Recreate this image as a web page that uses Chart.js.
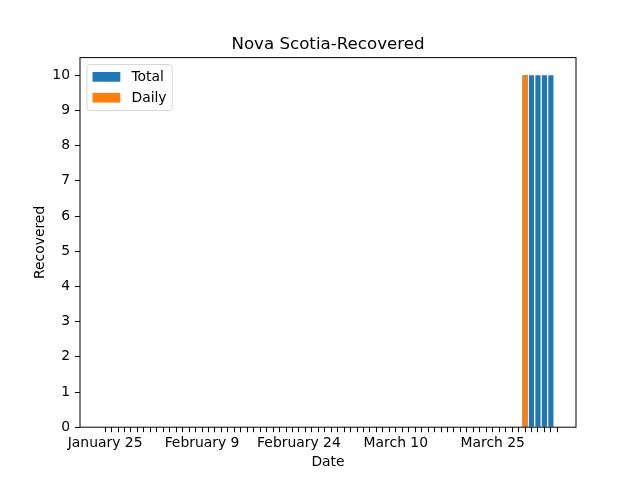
<!DOCTYPE html>
<html>
<head>
<meta charset="utf-8">
<script src="https://cdn.jsdelivr.net/npm/chart.js@4.4.1/dist/chart.umd.min.js"></script>
<style>
  html, body { margin: 0; padding: 0; background: #fff; }
  #wrap { width: 640px; height: 480px; }
</style>
</head>
<body>
<div id="wrap"><canvas id="recoveredChart" width="640" height="480"></canvas></div>
<script>
// days since January 25 (2020), one bar slot per day
const tickLabels = ['January 25', 'February 9', 'February 24', 'March 10', 'March 25'];
const tickDays = [0, 15, 30, 45, 60];
const yTicks = [0, 1, 2, 3, 4, 5, 6, 7, 8, 9, 10];

const total = [
  0, 0, 0, 0, 0, 0, 0, 0, 0, 0,
  0, 0, 0, 0, 0, 0, 0, 0, 0, 0,
  0, 0, 0, 0, 0, 0, 0, 0, 0, 0,
  0, 0, 0, 0, 0, 0, 0, 0, 0, 0,
  0, 0, 0, 0, 0, 0, 0, 0, 0, 0,
  0, 0, 0, 0, 0, 0, 0, 0, 0, 0,
  0, 0, 0, 0, 0, 10, 10, 10, 10, 10
];
const daily = [
  0, 0, 0, 0, 0, 0, 0, 0, 0, 0,
  0, 0, 0, 0, 0, 0, 0, 0, 0, 0,
  0, 0, 0, 0, 0, 0, 0, 0, 0, 0,
  0, 0, 0, 0, 0, 0, 0, 0, 0, 0,
  0, 0, 0, 0, 0, 0, 0, 0, 0, 0,
  0, 0, 0, 0, 0, 0, 0, 0, 0, 0,
  0, 0, 0, 0, 0, 10, 0, 0, 0, 0
];

// one tick per day, one more than the data
const dayTicks = [];
for (let i = 0; i <= total.length; i++) dayTicks.push(i);

Chart.defaults.font.family = "'DejaVu Sans', sans-serif";
Chart.defaults.color = '#000';

const FS = 13.9;

// matplotlib-like legend in the upper left corner of the axes
const legendBox = {
  id: 'legendBox',
  afterDraw(chart) {
    const ctx = chart.ctx;
    const area = chart.chartArea;
    const sets = chart.data.datasets;
    ctx.save();
    ctx.font = FS + "px 'DejaVu Sans'";
    let tw = 0;
    sets.forEach(d => { tw = Math.max(tw, ctx.measureText(d.label).width); });
    const x = area.left + 0.5 * FS;
    const y = area.top + 0.5 * FS;
    const w = 0.4 * FS + 2 * FS + 0.8 * FS + tw + 0.4 * FS;
    const h = 46;
    ctx.beginPath();
    ctx.roundRect(x, y, w, h, 2.8);
    ctx.fillStyle = 'rgba(255,255,255,0.8)';
    ctx.fill();
    ctx.strokeStyle = 'rgba(204,204,204,0.8)';
    ctx.lineWidth = 1;
    ctx.stroke();
    sets.forEach((d, i) => {
      const cy = y + 12.3 + i * 20.85;
      ctx.fillStyle = d.backgroundColor;
      ctx.fillRect(x + 0.4 * FS, cy - 0.35 * FS, 2 * FS, 0.7 * FS);
      ctx.fillStyle = '#000';
      ctx.textBaseline = 'middle';
      ctx.textAlign = 'left';
      ctx.fillText(d.label, x + 0.4 * FS + 2.8 * FS, cy + 0.8);
    });
    ctx.restore();
  }
};

// the four spines
const frame = {
  id: 'frame',
  afterDatasetsDraw(chart) {
    const a = chart.chartArea;
    const ctx = chart.ctx;
    ctx.save();
    ctx.strokeStyle = '#000';
    ctx.lineWidth = 1;
    ctx.strokeRect(a.left, a.top, a.right - a.left, a.bottom - a.top);
    ctx.restore();
  }
};

new Chart(document.getElementById('recoveredChart'), {
  type: 'bar',
  data: {
    datasets: [
      {
        label: 'Total',
        data: total.map((v, i) => ({ x: i, y: v })),
        backgroundColor: '#1f77b4',
        borderWidth: 0,
        order: 2
      },
      {
        label: 'Daily',
        data: daily.map((v, i) => ({ x: i, y: v })),
        backgroundColor: '#ff7f0e',
        borderWidth: 0,
        order: 1
      }
    ]
  },
  options: {
    responsive: false,
    animation: false,
    events: [],
    layout: { padding: { left: 0, right: 64, top: 0, bottom: 0 } },
    datasets: {
      bar: { grouped: false, barPercentage: 0.8, categoryPercentage: 1.0 }
    },
    scales: {
      x: {
        type: 'linear',
        min: -3.89,
        max: 72.89,
        offset: false,
        afterBuildTicks: s => { s.ticks = dayTicks.map(v => ({ value: v })); },
        afterFit: s => { s.height = 52.8; },
        ticks: {
          autoSkip: false,
          maxRotation: 0,
          padding: 2.5,
          font: { size: FS },
          callback: v => {
            const k = tickDays.indexOf(v);
            return k < 0 ? '' : tickLabels[k];
          }
        },
        grid: { offset: false, drawOnChartArea: false, tickLength: 5, tickColor: '#000' },
        border: { display: false },
        title: { display: true, text: 'Date', font: { size: FS }, padding: { top: 0, bottom: 8.8 } }
      },
      y: {
        min: 0,
        max: 10.5,
        afterBuildTicks: s => { s.ticks = yTicks.map(v => ({ value: v })); },
        afterFit: s => { s.width = 80; },
        ticks: { padding: 5, font: { size: FS } },
        grid: { drawOnChartArea: false, tickLength: 5, tickColor: '#000' },
        border: { display: false },
        title: { display: true, text: 'Recovered', font: { size: FS }, padding: { top: 31.6, bottom: 0 } }
      }
    },
    plugins: {
      legend: { display: false },
      tooltip: { enabled: false },
      title: {
        display: true,
        text: 'Nova Scotia-Recovered',
        fullSize: false,
        color: '#000',
        font: { size: 16.67, weight: 'normal' },
        padding: { top: 35, bottom: 2.6 }
      }
    }
  },
  plugins: [legendBox, frame]
});
</script>
</body>
</html>
